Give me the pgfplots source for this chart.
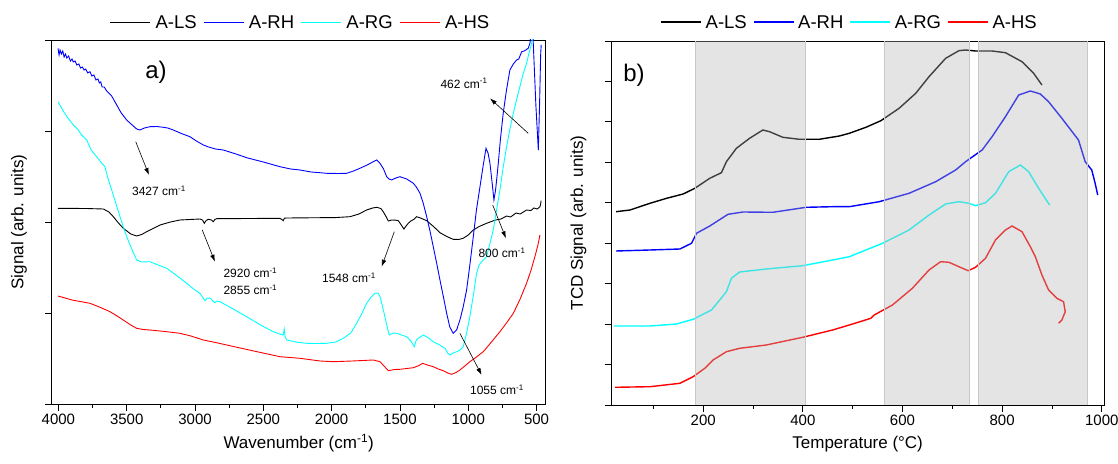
\documentclass[border=0pt]{standalone}
\usepackage{fontspec}
\setmainfont{Liberation Sans}
\usepackage{pgfplots}
\pgfplotsset{compat=1.18}
\usetikzlibrary{arrows.meta}

\newcommand{\degC}{\symbol{"00B0}C}

\definecolor{cLS}{RGB}{0,0,0}
\definecolor{cRH}{RGB}{0,0,255}
\definecolor{cRG}{RGB}{0,255,255}
\definecolor{cHS}{RGB}{255,0,0}
\definecolor{bandfill}{RGB}{179,179,179}
\definecolor{bandline}{RGB}{200,200,200}

\tikzset{
  note/.style={font=\fontsize{12}{14}\selectfont},
  pointer/.style={-{Latex[length=7pt,width=4.5pt]}, line width=0.6pt},
  bandedge/.style={bandline, line width=0.7pt},
  keytext/.style={anchor=west, inner sep=0pt, text=black, font=\fontsize{18.5}{21}\selectfont},
  keyline/.style={line width=1.3pt},
}
\pgfplotsset{
  panel/.style={
    scale only axis,
    axis line style={line width=0.8pt},
    tick align=outside,
    tick style={black, line width=0.8pt},
    major tick length=6.5pt,
    minor tick length=3.5pt,
    xtick pos=bottom, ytick pos=left,
    tick label style={font=\fontsize{15}{18}\selectfont},
    label style={font=\fontsize{17}{20}\selectfont},
    /pgf/number format/assume math mode=true,
    /pgf/number format/1000 sep={},
    yticklabels={},
    xlabel style={at={(axis description cs:0.5,-0.108)}, anchor=center},
    ylabel style={at={(axis description cs:-0.066,0.5)}, anchor=center},
  },
  keybox/.style={
    legend columns=4,
    legend style={draw=none, fill=none, anchor=center, inner sep=0pt,
      font=\fontsize{18.5}{21}\selectfont,
      nodes={inner sep=0pt},
      /tikz/every odd column/.append style={column sep=4.5pt},
      /tikz/every even column/.append style={column sep=6.5pt}},
    legend image code/.code={\draw[#1, line width=1.3pt] (0pt,0pt) -- (40pt,0pt);},
  },
}

\begin{document}
\begin{tikzpicture}
\path[use as bounding box] (0pt,0pt) rectangle (1118pt,463pt);

% ---------------- a) FTIR spectra ----------------
\begin{axis}[panel, keybox,
  at={(51.7pt,59pt)}, anchor=south west,
  width=494pt, height=364pt,
  x dir=reverse, xmin=433, xmax=4049,
  ymin=1, ymax=365,
  xtick={500,1000,...,4000}, minor xtick={750,1250,...,3750},
  ytick={1,92,183,274,365},
  xlabel={Wavenumber (cm\textsuperscript{-1})},
  ylabel={Signal (arb. units)},
  legend style={at={(axis description cs:0.5016,1.048)}},
  every axis plot/.append style={line width=0.9pt},
]
\addlegendimage{cLS}\addlegendentry{A-LS}
\addlegendimage{cRH}\addlegendentry{A-RH}
\addlegendimage{cRG}\addlegendentry{A-RG}
\addlegendimage{cHS}\addlegendentry{A-HS}

\addplot[cLS, forget plot] coordinates {
(4003,196.7) (3800,196.5) (3671,196) (3630,193) (3598,188.3) (3560,182) (3525,176.7)
(3470,171) (3427,169) (3390,170.5) (3354,173.3) (3300,177) (3256,180) (3180,183)
(3110,185) (2964,186) (2945,185) (2932,181.7) (2918,184.5) (2903,185.7) (2880,185)
(2866,183.3) (2855,185.5) (2841,186.3) (2600,186.5) (2378,186.7) (2360,185) (2354,184.3)
(2345,186.8) (2329,187) (2085,187.3) (1988,187.3) (1866,188.3) (1800,191) (1744,195)
(1700,197) (1670,197.7) (1640,196.5) (1622,193.3) (1600,188) (1585,184) (1560,185)
(1530,184.8) (1512,184.3) (1490,180) (1471,176) (1455,179) (1439,181.7) (1420,184)
(1397,185.7) (1378,188.3) (1350,187) (1304,184.3) (1250,178) (1207,172.3) (1150,168)
(1110,165.7) (1070,165.5) (1037,166.7) (1000,170) (963,175) (920,178.5) (866,181.7)
(800,185) (760,186) (719,189) (690,188) (650,192) (620,191) (573,195) (540,194.5)
(520,197) (495,196) (475,198.3) (470,201) (467,204.3)
};
\addplot[cRH, forget plot] coordinates {
(4003,356.7) (3995,350) (3988,355) (3978,351) (3968,354) (3958,348) (3948,351)
(3938,347) (3925,349) (3912,344) (3900,346) (3891,343) (3878,344) (3865,340)
(3850,341) (3838,337) (3825,338) (3812,335) (3800,336) (3785,332) (3769,333.3)
(3755,329) (3740,330) (3725,325) (3710,326) (3700,322) (3690,323) (3680,318)
(3665,318) (3646,314) (3610,309) (3573,300) (3540,292) (3500,285) (3460,280)
(3427,276) (3403,275) (3370,277) (3330,278.3) (3280,278.5) (3232,277.7) (3200,277)
(3159,275) (3100,271.5) (3037,268.3) (2990,264) (2939,260) (2900,258) (2850,256)
(2793,255) (2700,251) (2622,247.3) (2500,243) (2378,238.3) (2300,236) (2232,235)
(2150,233) (2085,232.3) (2038,231.7) (1950,231.5) (1890,231.7) (1840,234) (1793,236.7)
(1740,240) (1695,243.3) (1670,245) (1646,241.7) (1620,236) (1597,228.3) (1580,226)
(1561,225) (1530,227) (1500,228.3) (1450,226) (1402,221.7) (1380,218) (1353,211.7)
(1330,202) (1304,188.3) (1280,174) (1256,158.3) (1230,141) (1207,125) (1180,107)
(1158,91.7) (1135,78) (1110,71.7) (1085,75) (1061,85) (1037,98) (1012,115) (990,138)
(963,168.3) (940,195) (914,218.3) (890,240) (870,256.7) (855,252) (841,241.7)
(825,222) (812,205) (800,215) (790,228) (780,241.7) (765,265) (744,291.7) (720,315)
(695,335) (670,341) (646,345) (630,346) (609,353.3) (590,354) (561,356.7) (548,362)
(536,378) (530,378) (524,362) (505,300) (487,255) (478,300) (470,350) (466,360)
};
\addplot[cRG, forget plot] coordinates {
(4003,303.3) (3960,293) (3930,287) (3891,280) (3860,276) (3830,270) (3793,265)
(3760,255) (3720,248.3) (3690,243) (3659,238.3) (3640,228) (3610,215) (3580,202)
(3549,188.3) (3520,176) (3500,168.3) (3460,155) (3427,145) (3390,143) (3330,143.3)
(3270,140) (3207,136.7) (3130,129) (3061,121.7) (3010,116) (2964,111.7) (2940,107)
(2927,104.3) (2910,107) (2885,106.7) (2870,104) (2854,102.3) (2840,104) (2817,103.3)
(2720,96) (2622,88.3) (2520,80) (2427,73.3) (2380,71) (2354,70) (2347,76) (2340,68)
(2329,65) (2260,63) (2183,61.7) (2100,61.5) (2036,61.7) (1970,63) (1915,66.7)
(1860,72) (1817,81.7) (1780,91) (1744,101.7) (1710,108) (1683,111.7) (1660,112)
(1646,108.3) (1630,100) (1610,88.3) (1590,76) (1578,70) (1550,72) (1524,71.7)
(1490,70) (1451,68.3) (1420,64) (1395,58.3) (1380,65) (1366,66.7) (1329,70)
(1290,67) (1256,63.3) (1210,60) (1170,56.7) (1150,52) (1134,50) (1110,52) (1085,53.3)
(1060,55) (1037,58.3) (1012,72) (988,88.3) (960,112) (939,131.7) (920,140) (902,143.3)
(866,148.3) (840,162) (817,175) (790,197) (768,215) (745,237) (719,258.3) (695,276)
(670,291.7) (645,306) (622,318.3) (600,330) (573,341.7) (555,352) (536,361.7) (525,370)
};
\addplot[cHS, forget plot] coordinates {
(4003,109) (3900,105) (3769,101.7) (3700,98) (3622,93.3) (3570,89) (3525,85)
(3470,80) (3427,76.7) (3380,75.5) (3330,75) (3220,73.5) (3110,71.7) (3030,69)
(2939,65) (2850,62.5) (2768,60) (2570,54) (2378,48.3) (2232,46.7) (2085,44)
(1988,43.3) (1850,44) (1695,45) (1646,43.3) (1610,38) (1585,34.3) (1540,35.5)
(1500,35.7) (1450,36.5) (1402,37.3) (1360,39.5) (1334,41.7) (1300,40) (1256,38.3)
(1220,36) (1183,34.3) (1150,32) (1121,30.7) (1090,32.5) (1061,35) (1025,39) (988,43.3)
(940,48) (890,53.3) (830,63) (768,73.3) (720,82) (670,91.7) (620,106) (573,121.7)
(540,135) (512,148.3) (490,160) (475,170)
};

\node[font=\fontsize{24}{28}\selectfont] at (axis cs:3285,333) {a)};

\draw[pointer] (axis cs:3434,263.3) -- (axis cs:3337,230);
\node[note] at (axis cs:3264,214) {3427 cm\textsuperscript{-1}};
\draw[pointer] (axis cs:2947,175) -- (axis cs:2854,143.3);
\node[note, anchor=west] at (axis cs:2817,132) {2920 cm\textsuperscript{-1}};
\node[note, anchor=west] at (axis cs:2817,115) {2855 cm\textsuperscript{-1}};
\draw[pointer] (axis cs:1541,173.3) -- (axis cs:1634,138.3);
\node[note] at (axis cs:1873,127) {1548 cm\textsuperscript{-1}};
\draw[pointer] (axis cs:821,200) -- (axis cs:724,166.7);
\node[note] at (axis cs:753,152.3) {800 cm\textsuperscript{-1}};
\draw[pointer] (axis cs:1061,71.7) -- (axis cs:902,30);
\node[note] at (axis cs:790,15) {1055 cm\textsuperscript{-1}};
\draw[pointer] (axis cs:561,271.7) -- (axis cs:841,306.7);
\node[note] at (axis cs:1031,321.7) {462 cm\textsuperscript{-1}};
\end{axis}

% ---------------- b) TPR profiles ----------------
\begin{axis}[panel,
  at={(611pt,58pt)}, anchor=south west,
  width=493.3pt, height=364pt,
  xmin=15, xmax=1005, ymin=0, ymax=364,
  xtick={200,400,...,1000}, minor xtick={100,300,...,900},
  ytick={0,40.44,80.89,121.33,161.78,202.22,242.67,283.11,323.56,364},
  xlabel={Temperature (\degC)},
  ylabel={TCD Signal (arb. units)},
  every axis plot/.append style={line width=1.4pt},
]
\addplot[cLS] coordinates {
(25.2,193.3) (53.2,195) (93.2,201.7) (126.6,206.7) (159.8,211) (183.2,216.7)
(213.2,226.7) (236.6,232.3) (246.6,243.3) (266.6,256.7) (293.2,266.7) (319.8,275)
(333.2,273.3) (359.8,267.7) (393.2,265.7) (433.2,265.7) (473.2,269) (493.2,271.7)
(526.6,277.7) (556.6,284.3) (593.2,296.7) (626.6,311.7) (653.2,328.3) (686.6,346.7)
(713.2,354.3) (726.6,355) (746.6,354) (779.8,354) (806.6,352.3) (839.8,343.3)
(863.2,331.7) (879.8,320)
};
\addplot[cRH] coordinates {
(25.2,154) (93.2,155) (153.2,156) (176.6,161.7) (186.6,171.7) (213.2,179)
(249.8,190.7) (279.8,193) (339.8,192.7) (406.6,197.7) (459.8,198.3) (493.2,198.3)
(553.2,203.3) (613.2,211.7) (666.6,223.3) (706.6,235) (726.6,243.3) (759.8,255)
(779.8,268.3) (806.6,288.3) (833.2,310) (856.6,314) (876.6,311) (893.2,303.3)
(919.8,286.7) (953.2,265) (966.6,243.3) (979.8,235) (986.6,221.7) (991.8,210)
};
\addplot[cRG] coordinates {
(21.2,79) (93.2,79) (146.6,81) (179.8,85.7) (216.6,95) (233.2,105) (246.6,113.3)
(256.6,126.7) (273.2,133) (326.6,136) (399.8,139.3) (459.8,145) (493.2,148.3)
(559.8,161.7) (613.2,175) (653.2,190) (686.6,201) (713.2,203.3) (733.2,201.7)
(746.6,199.3) (766.6,202.3) (786.6,211.7) (813.2,233.3) (836.6,240) (853.2,233.3)
(873.2,216.7) (895.2,200)
};
\addplot[cHS] coordinates {
(23.2,17.7) (93.2,18.3) (153.2,21.7) (179.8,28.3) (203.2,36.7) (219.8,45)
(246.6,53.3) (273.2,56.7) (326.6,60) (399.8,67.7) (459.8,75) (493.2,80) (536.6,86.7)
(543.2,90) (579.8,100) (619.8,116.7) (653.2,135) (676.6,143.3) (693.2,142.7)
(713.2,138.3) (731.8,134.3) (746.6,137.7) (766.6,146.7) (786.6,165) (806.6,175)
(819.8,179) (839.8,173.3) (856.6,158.3) (866.6,148.3) (879.8,130) (893.2,115)
(909.8,106.7) (923.2,103.3) (926.6,93.3) (919.8,85) (913.2,81.7)
};

% shaded temperature ranges laid over the profiles
\fill[bandfill, fill opacity=0.36] (axis cs:184,0) rectangle (axis cs:405,364);
\fill[bandfill, fill opacity=0.36] (axis cs:563,0) rectangle (axis cs:734,364);
\fill[bandfill, fill opacity=0.36] (axis cs:752,0) rectangle (axis cs:970,364);
\draw[bandedge] (axis cs:184,0) -- (axis cs:184,364);
\draw[bandedge] (axis cs:405,0) -- (axis cs:405,364);
\draw[bandedge] (axis cs:563,0) -- (axis cs:563,364);
\draw[bandedge] (axis cs:734,0) -- (axis cs:734,364);
\draw[bandedge] (axis cs:752,0) -- (axis cs:752,364);
\draw[bandedge] (axis cs:970,0) -- (axis cs:970,364);

\node[font=\fontsize{24}{28}\selectfont] at (axis cs:61,330) {b)};
\end{axis}

% key of panel b), set in one row above the frame
\draw[cLS, keyline] (661pt,441pt) -- ++(40pt,0pt) coordinate (k1);
\node[keytext] (t1) at ([xshift=4.5pt]k1) {A-LS};
\draw[cRH, keyline] ([xshift=6.5pt]t1.east |- k1) -- ++(40pt,0pt) coordinate (k2);
\node[keytext] (t2) at ([xshift=4.5pt]k2) {A-RH};
\draw[cRG, keyline] ([xshift=6.5pt]t2.east |- k2) -- ++(40pt,0pt) coordinate (k3);
\node[keytext] (t3) at ([xshift=4.5pt]k3) {A-RG};
\draw[cHS, keyline] ([xshift=6.5pt]t3.east |- k3) -- ++(40pt,0pt) coordinate (k4);
\node[keytext] (t4) at ([xshift=4.5pt]k4) {A-HS};
\end{tikzpicture}
\end{document}
